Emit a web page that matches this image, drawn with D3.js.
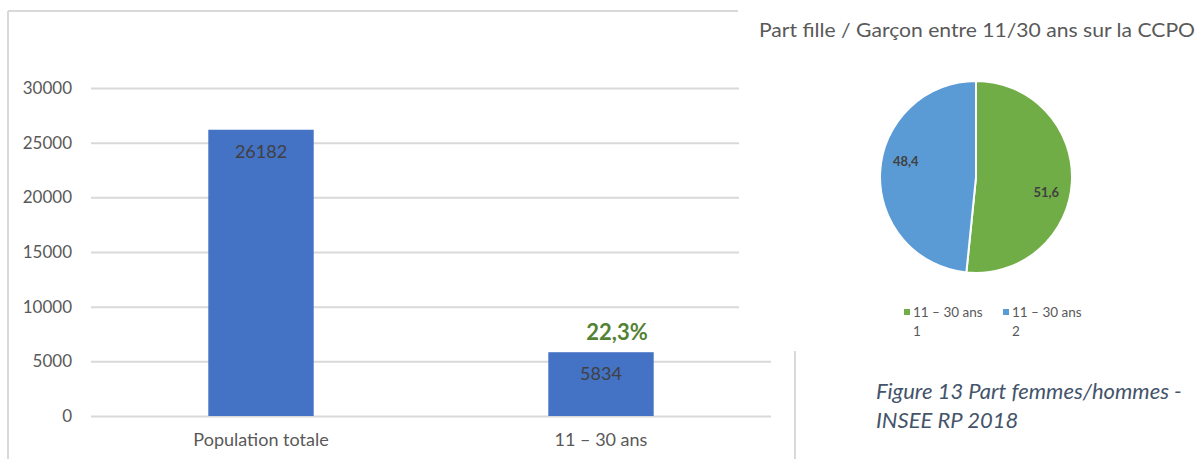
<!DOCTYPE html>
<html><head><meta charset="utf-8">
<script src="https://cdn.jsdelivr.net/npm/d3@7"></script>
<style>
html,body{margin:0;padding:0;background:#fff;}
svg{display:block;font-family:Lato, "Open Sans", sans-serif;}
</style></head>
<body>
<svg id="c" width="1199" height="459"></svg>
<script>
// ---- data ----
const barCategories = ["Population totale", "11 – 30 ans"];
const barValues = [26182, 5834];
const yTicks = [0, 5000, 10000, 15000, 20000, 25000, 30000];
const shareAnnotation = "22,3%";

const pieTitle = "Part fille / Garçon entre 11/30 ans sur la CCPO";
const pieLabels = ["11 – 30 ans 1", "11 – 30 ans 2"];
const pieValues = [51.6, 48.4];
const captionLines = ["Figure 13 Part femmes/hommes -", "INSEE RP 2018"];

// ---- setup ----
const svg = d3.select("#c");
const grid = "#d9d9d9", txt = "#595959";

// bar chart
const x = d3.scaleBand().domain(barCategories).range([91, 771]).paddingInner(0.69).paddingOuter(0.345);
const y = d3.scaleLinear().domain([0, 30000]).range([416, 88]);

// frame of the bar chart
svg.append("line").attr("x1", 8).attr("x2", 8).attr("y1", 11).attr("y2", 459).attr("stroke", grid).attr("stroke-width", 2);
svg.append("line").attr("x1", 8).attr("x2", 738).attr("y1", 11).attr("y2", 11).attr("stroke", grid).attr("stroke-width", 2);

// gridlines via axis
const yAxis = d3.axisLeft(y).tickValues(yTicks).tickSize(-(771 - 91)).tickPadding(19).tickFormat(d3.format("d"));
const ga = svg.append("g").attr("transform", "translate(91,0)").call(yAxis);
ga.select(".domain").remove();
ga.selectAll(".tick line").attr("stroke", grid).attr("stroke-width", 2);
ga.selectAll(".tick text").attr("fill", txt).style("font-size", "17px").style("font-family", "Lato");

// bars
svg.append("g").selectAll("rect").data(barValues).join("rect")
  .attr("x", (d, i) => x(barCategories[i]))
  .attr("width", x.bandwidth())
  .attr("y", d => y(d))
  .attr("height", d => y(0) - y(d))
  .attr("fill", "#4472C4");

// bar value labels
svg.append("g").selectAll("text").data(barValues).join("text")
  .attr("x", (d, i) => x(barCategories[i]) + x.bandwidth() / 2)
  .attr("y", d => y(d) + 28)
  .attr("text-anchor", "middle")
  .attr("fill", "#404040")
  .style("font-size", "18px")
  .text(d => d);

// x axis labels
const xAxis = d3.axisBottom(x).tickSize(0).tickPadding(17);
const gx = svg.append("g").attr("transform", "translate(0,416)").call(xAxis);
gx.select(".domain").remove();
gx.selectAll(".tick text").attr("fill", txt).style("font-size", "18px").style("font-family", "Lato");

// 22,3% annotation
svg.append("text")
  .attr("x", x(barCategories[1]) + x.bandwidth() / 2 + 16)
  .attr("y", y(barValues[1]) - 12)
  .attr("text-anchor", "middle")
  .attr("fill", "#548235")
  .style("font-size", "22px").style("font-weight", "bold")
  .text(shareAnnotation);

// pie panel background (overlaps bar chart)
svg.append("rect").attr("x", 739).attr("y", 0).attr("width", 460).attr("height", 346).attr("fill", "#fff");
svg.append("line").attr("x1", 795).attr("x2", 795).attr("y1", 351).attr("y2", 459).attr("stroke", grid).attr("stroke-width", 2);

// pie
const pieColors = d3.scaleOrdinal().domain(pieLabels).range(["#70AD47", "#5B9BD5"]);
const cx = 976, cy = 177, R = 96;
const pie = d3.pie().sort(null).value(d => d)(pieValues);
const arc = d3.arc().innerRadius(0).outerRadius(R);
const gp = svg.append("g").attr("transform", `translate(${cx},${cy})`);
gp.selectAll("path").data(pie).join("path")
  .attr("d", arc)
  .attr("fill", (d, i) => pieColors(pieLabels[i]))
  .attr("stroke", "#fff").attr("stroke-width", 2);
gp.selectAll("text").data(pie).join("text")
  .attr("transform", d => {
    const a = (d.startAngle + d.endAngle) / 2 + 0.17;
    return `translate(${72 * Math.sin(a)},${-72 * Math.cos(a)})`;
  })
  .attr("text-anchor", "middle").attr("dy", "0.35em")
  .attr("fill", "#404040").style("font-size", "13px").style("font-weight", "bold")
  .text(d => String(d.data).replace(".", ","));

// pie title
svg.append("text").attr("x", 759).attr("y", 37).attr("fill", txt)
  .style("font-size", "19px").attr("textLength", 436).attr("lengthAdjust", "spacingAndGlyphs")
  .text(pieTitle);

// legend
const lg = svg.append("g");
const legX = [904, 1003];
pieLabels.forEach((lab, i) => {
  const g = lg.append("g").attr("transform", `translate(${legX[i]},0)`);
  g.append("rect").attr("x", 0).attr("y", 309).attr("width", 6).attr("height", 6).attr("fill", pieColors(lab));
  const parts = lab.split(" ");
  const last = parts.pop();
  const t = g.append("text").attr("fill", txt).style("font-size", "13.5px");
  t.append("tspan").attr("x", 9).attr("y", 317).text(parts.join(" "));
  t.append("tspan").attr("x", 9).attr("y", 336).text(last);
});

// caption
const cap = svg.append("text").attr("fill", "#44546A").style("font-size", "22px").style("font-style", "italic");
captionLines.forEach((l, i) => cap.append("tspan").attr("x", 876).attr("y", 399 + i * 29).text(l));
</script>
</body></html>
